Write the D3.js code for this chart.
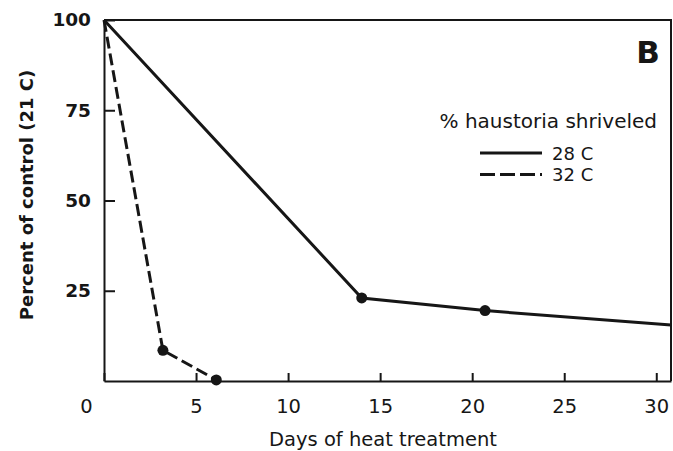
<!DOCTYPE html>
<html>
<head>
<meta charset="utf-8">
<script src="https://cdn.jsdelivr.net/npm/d3@7"></script>
<style>
  body { margin: 0; background: #fff; }
  svg text { font-family: "DejaVu Sans", sans-serif; fill: #161616; }
</style>
</head>
<body>
<div id="container"></div>
<script>
// percent of control vs days of heat treatment, panel B

// 28 C series (last point is where the line runs out at the frame)
var days28 = [0, 14, 20.7, 30.8];
var pct28 = [100, 23, 19.5, 15.5];
var marked28 = [false, true, true, false];

// 32 C series
var days32 = [0, 3.2, 6.1];
var pct32 = [100, 8.5, 0.3];
var marked32 = [false, true, true];

var xTicks = [0, 5, 10, 15, 20, 25, 30];
var yTicks = [25, 50, 75, 100];

var margin = {top: 20, right: 2, bottom: 70, left: 104},
    width = 673 - margin.left - margin.right,
    height = 451 - margin.top - margin.bottom;

var svg = d3.select("#container").append("svg")
    .attr("width", 673)
    .attr("height", 451)
  .append("g")
    .attr("transform", "translate(" + margin.left + "," + margin.top + ")");

var x = d3.scaleLinear().domain([0, 30.8]).range([0, width]);
var y = d3.scaleLinear().domain([0, 100]).range([height, 0]);

// frame top + right
svg.append("path")
    .attr("d", "M0,0H" + width + "V" + height)
    .attr("fill", "none")
    .attr("stroke", "#161616")
    .attr("stroke-width", 2);

// x axis, ticks pointing inward
var xAxis = svg.append("g")
    .attr("transform", "translate(0," + height + ")")
    .call(d3.axisBottom(x).tickValues(xTicks).tickSize(-8).tickPadding(18).tickSizeOuter(0));
xAxis.select(".domain").attr("stroke", "#161616").attr("stroke-width", 2);
xAxis.selectAll(".tick line").attr("stroke", "#161616").attr("stroke-width", 2);
xAxis.selectAll(".tick text")
    .attr("font-size", 19.5)
    .attr("dx", function(d) { return d === 0 ? -18 : 0; });

// y axis, ticks pointing inward
var yAxis = svg.append("g")
    .call(d3.axisLeft(y).tickValues(yTicks).tickSize(-11).tickPadding(13).tickSizeOuter(0));
yAxis.select(".domain").attr("stroke", "#161616").attr("stroke-width", 2);
yAxis.selectAll(".tick line").attr("stroke", "#161616").attr("stroke-width", 2);
yAxis.selectAll(".tick text")
    .attr("font-size", 18.5)
    .attr("font-weight", 700);

var line = d3.line()
    .x(function(d) { return x(d[0]); })
    .y(function(d) { return y(d[1]); });

var s28 = days28.map(function(d, i) { return [d, pct28[i], marked28[i]]; });
var s32 = days32.map(function(d, i) { return [d, pct32[i], marked32[i]]; });

svg.append("path")
    .datum(s28)
    .attr("d", line)
    .attr("fill", "none")
    .attr("stroke", "#161616")
    .attr("stroke-width", 3);

svg.append("path")
    .datum(s32)
    .attr("d", line)
    .attr("fill", "none")
    .attr("stroke", "#161616")
    .attr("stroke-width", 3)
    .attr("stroke-dasharray", "12,5");

svg.selectAll(".dot")
    .data(s28.concat(s32).filter(function(d) { return d[2]; }))
  .enter().append("circle")
    .attr("class", "dot")
    .attr("cx", function(d) { return x(d[0]); })
    .attr("cy", function(d) { return y(d[1]); })
    .attr("r", 5.5)
    .attr("fill", "#161616");

// panel letter
svg.append("text")
    .attr("x", width - 11)
    .attr("y", 43)
    .attr("text-anchor", "end")
    .attr("font-size", 31)
    .attr("font-weight", 700)
    .text("B");

// legend
svg.append("text")
    .attr("x", width - 14)
    .attr("y", 108)
    .attr("text-anchor", "end")
    .attr("font-size", 20)
    .text("% haustoria shriveled");

var legend = [["28 C", null], ["32 C", "15,5"]];
legend.forEach(function(l, i) {
  var ly = 133 + i * 21.5;
  svg.append("line")
      .attr("x1", 376).attr("x2", 438)
      .attr("y1", ly).attr("y2", ly)
      .attr("stroke", "#161616")
      .attr("stroke-width", 3)
      .attr("stroke-dasharray", l[1]);
  svg.append("text")
      .attr("x", 448)
      .attr("y", ly + 6.5)
      .attr("font-size", 18)
      .text(l[0]);
});

// axis titles
svg.append("text")
    .attr("transform", "rotate(-90)")
    .attr("x", -(195 - margin.top))
    .attr("y", 33 - margin.left)
    .attr("text-anchor", "middle")
    .attr("font-size", 18)
    .attr("font-weight", 700)
    .text("Percent of control (21 C)");

svg.append("text")
    .attr("x", 383 - margin.left)
    .attr("y", 446 - margin.top)
    .attr("text-anchor", "middle")
    .attr("font-size", 19.5)
    .text("Days of heat treatment");
</script>
</body>
</html>
